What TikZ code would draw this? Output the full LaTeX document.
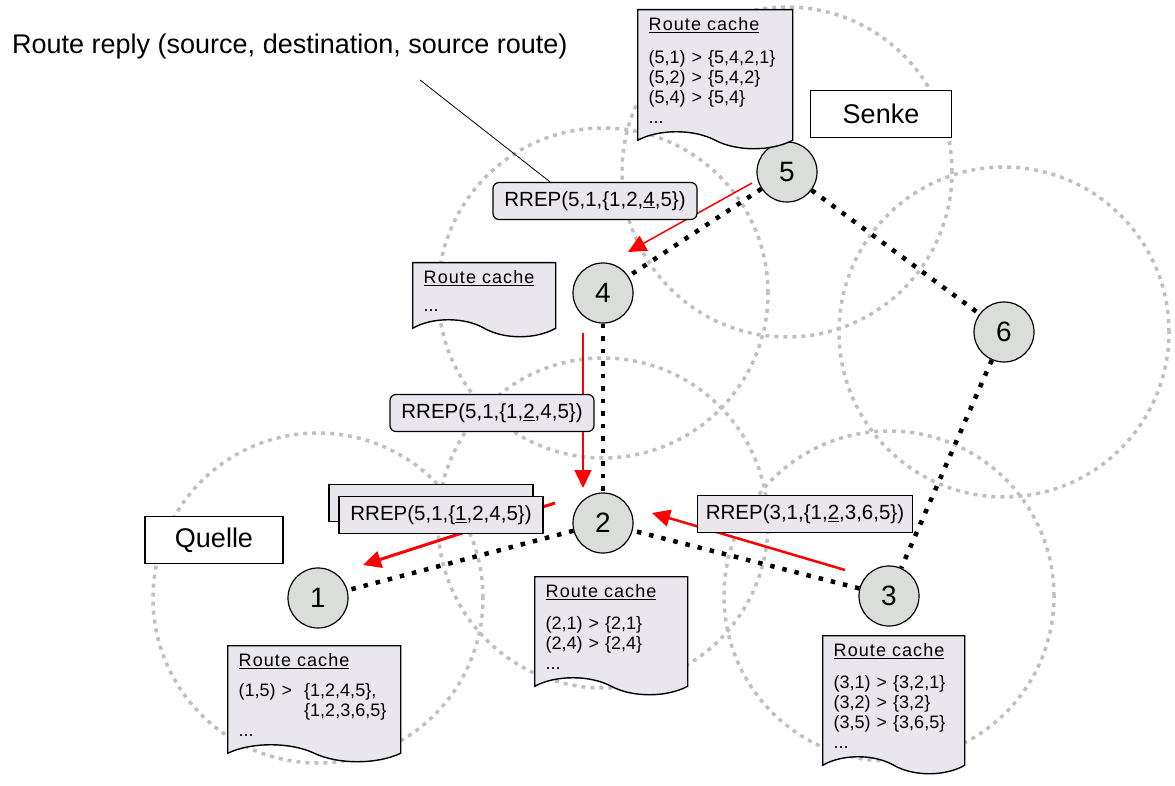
\documentclass[tikz,border=0pt]{standalone}
\usepackage{fontspec}
\setmainfont{Liberation Sans}
\usepackage{tikz}
\usetikzlibrary{shapes.geometric, shapes.symbols, arrows.meta, positioning, backgrounds, calc}
\definecolor{nodeGray}{RGB}{218,221,218}
\definecolor{cacheGray}{RGB}{233,231,237}
\definecolor{rangeGray}{RGB}{192,192,192}
\definecolor{replyRed}{RGB}{255,0,0}
\newcommand{\cachetitle}{{\addfontfeature{LetterSpace=6}\underline{Route cache}}}
\tikzset{
  dsr/range/.style={draw=rangeGray, line width=3.5pt, dash pattern=on 4pt off 5pt},
  dsr/host/.style={circle, draw=black, fill=nodeGray, minimum size=60pt,
    inner sep=0pt, line width=1.2pt, font=\fontsize{28}{28}\selectfont},
  dsr/link/.style={draw=black, line width=4.5pt, dash pattern=on 4.5pt off 8pt},
  dsr/reply/.style={-{Triangle[length=18pt,width=17pt]}, draw=replyRed,
    line width=1.5pt},
  dsr/rrep/.style={rectangle, draw=black, fill=cacheGray, line width=1.2pt,
    minimum width=204pt, minimum height=37pt, inner sep=2pt,
    font=\fontsize{20.5}{20.5}\selectfont},
  dsr/rrepr/.style={dsr/rrep, rounded corners=6pt},
  dsr/role/.style={rectangle, draw=black, fill=white, line width=1.3pt,
    minimum width=141pt, minimum height=47pt, font=\fontsize{27}{27}\selectfont},
  dsr/cache/.style={tape, tape bend top=none, tape bend bottom=out and in,
    tape bend height=17pt, draw=black, fill=cacheGray, line width=1.4pt,
    anchor=north west, align=left, inner xsep=11pt, inner ysep=8pt,
    font=\fontsize{18}{20}\selectfont},
  dsr/note/.style={anchor=west, inner sep=0pt, font=\fontsize{27}{27}\selectfont},
  dsr/pointer/.style={draw=black, line width=0.8pt}
}

\begin{document}
\begin{tikzpicture}[x=1pt, y=-1pt]
  \useasboundingbox (0,0) rectangle (1175,786);

  \node[dsr/host] (n5) at (787,172) {5};
  \node[dsr/host] (n4) at (603,293) {4};
  \node[dsr/host] (n6) at (1004,332) {6};
  \node[dsr/host] (n2) at (603,523) {2};
  \node[dsr/host] (n1) at (318,598) {1};
  \node[dsr/host] (n3) at (889,596) {3};

  \node[dsr/cache, text width=133pt] (c5) at (637,9)
    {\cachetitle\\[13pt](5,1) > \{5,4,2,1\}\\(5,2) > \{5,4,2\}\\(5,4) > \{5,4\}\\...};
  \node[dsr/cache, text width=121pt] (c4) at (412,262)
    {\cachetitle\\[8pt]...};
  \node[dsr/cache, text width=151pt] (c1) at (227,645)
    {\cachetitle\\[10pt](1,5) > \ \{1,2,4,5\},\\\phantom{(1,5) > \ }\{1,2,3,6,5\}\\...};
  \node[dsr/cache, text width=131pt] (c2) at (534,576)
    {\cachetitle\\[12pt](2,1) > \{2,1\}\\(2,4) > \{2,4\}\\...};
  \node[dsr/cache, text width=120pt] (c3) at (822,635)
    {\cachetitle\\[12pt](3,1) > \{3,2,1\}\\(3,2) > \{3,2\}\\(3,5) > \{3,6,5\}\\...};

  \node[dsr/rrepr] (r54) at (595,201) {RREP(5,1,\{1,2,\underline{4},5\})};
  \node[dsr/rrepr] (r42) at (492,413) {RREP(5,1,\{1,\underline{2},4,5\})};
  \node[dsr/rrep] (r21b) at (431,503) {};
  \node[dsr/rrep] (r21) at (441,515) {RREP(5,1,\{\underline{1},2,4,5\})};
  \node[dsr/rrep, minimum width=215pt] (r32) at (805,514) {RREP(3,1,\{1,\underline{2},3,6,5\})};

  \node[dsr/role] (senke) at (881,114) {Senke};
  \node[dsr/role, minimum width=138pt] (quelle) at (214,540) {Quelle};

  \node[dsr/note] (note) at (12,47) {Route reply (source, destination, source route)};
  \coordinate (notefoot) at (420,80);
  \draw[dsr/pointer] (notefoot) -- ([xshift=-45pt]r54.north);

  \begin{scope}[on background layer]
    \foreach \n in {n5,n4,n6,n2,n1,n3}
      \draw[dsr/range] (\n.center) circle (165pt);
    \draw[dsr/link] (n5) -- (n4);
    \draw[dsr/link] (n5) -- (n6);
    \draw[dsr/link] (n6) -- (n3);
    \draw[dsr/link] (n3) -- (n2);
    \draw[dsr/link] (n4) -- (n2);
    \draw[dsr/link] (n2) -- (n1);
    \draw[dsr/reply] ([shift={(-35,11)}]n5.center) -- ([shift={(25,-41)}]n4.center);
    \draw[dsr/reply] ([shift={(-20,40)}]n4.center) -- ([shift={(-20,-35)}]n2.center);
    \draw[dsr/reply, line width=3pt] ([shift={(-48,-20)}]n2.center) -- ([shift={(45,-33)}]n1.center);
    \draw[dsr/reply, line width=2.5pt] ([shift={(-44,-26)}]n3.center) -- ([shift={(49,-10)}]n2.center);
  \end{scope}
\end{tikzpicture}
\end{document}
